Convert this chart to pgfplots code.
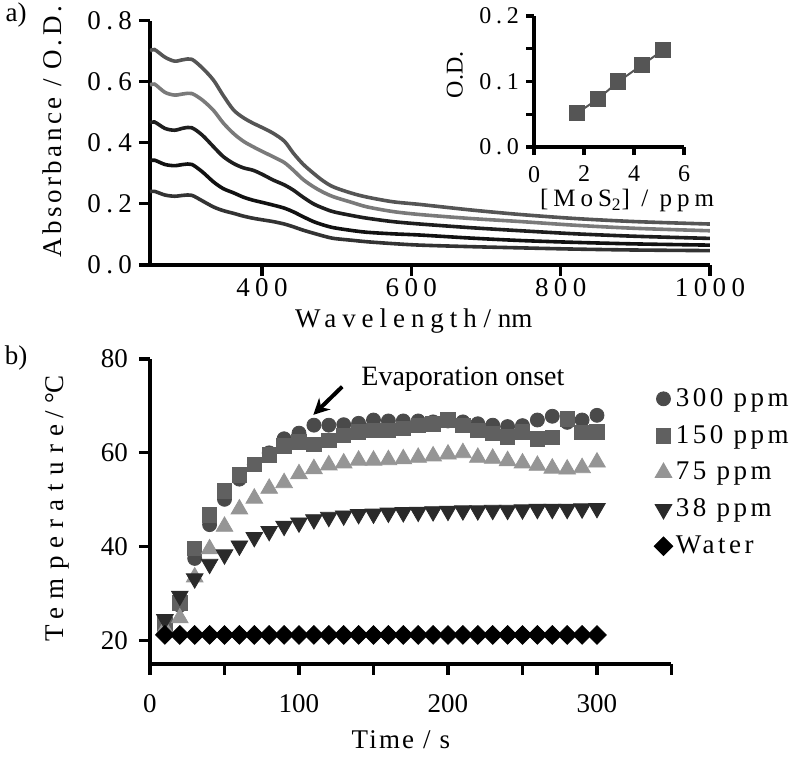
\documentclass[border=0pt]{standalone}
\usepackage{fontspec}
\setmainfont{Liberation Serif}
\newfontfamily\spA[LetterSpace=20]{Liberation Serif}
\newfontfamily\spB[LetterSpace=13]{Liberation Serif}
\newfontfamily\spC[LetterSpace=13]{Liberation Serif}
\newfontfamily\spD[LetterSpace=22]{Liberation Serif}
\newfontfamily\spE[LetterSpace=30]{Liberation Serif}
\newfontfamily\spF[LetterSpace=8]{Liberation Serif}
\usepackage{pgfplots}
\pgfplotsset{compat=1.18}
\usetikzlibrary{arrows.meta}
\definecolor{cA}{HTML}{555555}
\definecolor{cB}{HTML}{7A7A7A}
\definecolor{cC}{HTML}{1E1E1E}
\definecolor{cD}{HTML}{111111}
\definecolor{cE}{HTML}{333333}
\definecolor{mCirc}{HTML}{4A4A4A}
\definecolor{mSq}{HTML}{606060}
\definecolor{mUp}{HTML}{959595}
\definecolor{mDn}{HTML}{2A2A2A}
\pgfplotsset{
  lm/.style={only marks, legend image code/.code={\draw[mark repeat=2,mark phase=2,##1] plot coordinates {(0cm,0cm) (0.2cm,0cm) (0.4cm,0cm)};}},
  common/.style={scale only axis, axis x line*=bottom, axis y line*=left,
    axis line style={line width=1.6pt, -}, tick style={line width=1.6pt, black},
    tick align=outside, major tick length=5.5pt, minor tick length=0pt,
    /pgf/number format/assume math mode=true},
}
\begin{document}
\begin{tikzpicture}
\path[use as bounding box] (0pt,0pt) rectangle (400pt,-379pt);
% ---------- panel a ----------
\begin{axis}[common, at={(75pt,-132.5pt)}, anchor=south west,
  width=280pt, height=122.25pt,
  xmin=250, xmax=1000, ymin=0, ymax=0.8,
  xtick={400,600,800,1000}, xticklabels={400,600,800,1000},
  ytick={0,0.2,0.4,0.6,0.8}, yticklabels={0.0,0.2,0.4,0.6,0.8},
  ticklabel style={font=\fontsize{13.5}{15}\spA},
  xticklabel style={yshift=2.5pt},
  xlabel={{\spD Wavelength} / nm}, ylabel={Absorbance / O.D.},
  xlabel style={font=\fontsize{13.5}{15}\selectfont, at={(axis description cs:0.471,-0.229)}, anchor=center},
  ylabel style={font=\fontsize{13.5}{15}\spB, at={(axis description cs:-0.175,0.545)}, anchor=center, rotate=0},
  every axis plot/.append style={line width=1.8pt, smooth, no marks}]
\addplot[cA] coordinates {(250,0.700)(256,0.705)(270,0.680)(283,0.667)(295,0.672)(306,0.673)(320,0.645)(335,0.605)(348,0.555)(362,0.507)(375,0.482)(388,0.464)(400,0.450)(415,0.431)(430,0.405)(442,0.366)(455,0.330)(469,0.300)(482,0.275)(496,0.255)(520,0.235)(541,0.222)(575,0.207)(612,0.198)(680,0.180)(747,0.165)(820,0.152)(900,0.142)(1000,0.134)};
\addplot[cB] coordinates {(250,0.588)(256,0.592)(270,0.565)(283,0.556)(295,0.560)(306,0.561)(320,0.540)(335,0.506)(348,0.465)(362,0.430)(375,0.405)(388,0.387)(400,0.372)(415,0.354)(430,0.335)(442,0.310)(455,0.280)(469,0.256)(482,0.238)(496,0.223)(520,0.205)(541,0.190)(575,0.175)(612,0.165)(680,0.152)(747,0.142)(820,0.130)(900,0.120)(1000,0.112)};
\addplot[cC] coordinates {(250,0.465)(256,0.468)(270,0.447)(283,0.441)(295,0.448)(306,0.449)(320,0.425)(335,0.387)(348,0.355)(362,0.332)(375,0.318)(388,0.310)(400,0.297)(415,0.278)(430,0.262)(442,0.245)(455,0.222)(469,0.200)(482,0.186)(496,0.174)(520,0.162)(541,0.153)(575,0.142)(612,0.134)(680,0.122)(747,0.112)(820,0.102)(900,0.094)(1000,0.087)};
\addplot[cD] coordinates {(250,0.341)(256,0.343)(270,0.329)(283,0.325)(295,0.329)(306,0.329)(320,0.305)(335,0.272)(348,0.250)(362,0.236)(375,0.222)(388,0.212)(400,0.205)(415,0.196)(430,0.186)(442,0.174)(455,0.158)(469,0.142)(482,0.131)(496,0.122)(520,0.113)(541,0.107)(575,0.102)(612,0.098)(680,0.088)(747,0.080)(820,0.074)(900,0.069)(1000,0.065)};
\addplot[cE] coordinates {(250,0.240)(256,0.241)(270,0.229)(283,0.225)(295,0.228)(306,0.228)(320,0.210)(335,0.190)(348,0.178)(362,0.169)(375,0.160)(388,0.153)(400,0.148)(415,0.142)(430,0.134)(442,0.125)(455,0.114)(469,0.104)(482,0.095)(496,0.087)(520,0.081)(541,0.076)(575,0.070)(612,0.065)(680,0.060)(747,0.056)(820,0.052)(900,0.049)(1000,0.047)};
\end{axis}
% ---------- inset ----------
\begin{axis}[common, at={(267pt,-73.5pt)}, anchor=south west,
  width=75pt, height=65.5pt, major tick length=4pt,
  xmin=0, xmax=6, ymin=0, ymax=0.2,
  xtick={0,2,4,6}, xticklabels={0,2,4,6},
  ytick={0,0.05,0.1,0.15,0.2}, yticklabels={0.0,,0.1,,0.2},
  ticklabel style={font=\fontsize{12}{13}\spA},
  xticklabel style={yshift=-2pt},
  xlabel={[MoS\textsubscript{2}] / ppm}, ylabel={O.D.},
  xlabel style={font=\fontsize{12.5}{14}\spA, at={(axis description cs:0.62,-0.41)}, anchor=center},
  ylabel style={font=\fontsize{12}{13}\selectfont, at={(axis description cs:-0.527,0.55)}, anchor=center}]
\addplot[color=cA, line width=1pt, mark=square*, mark size=3.6pt, mark options={fill=cA, draw=cA}]
  coordinates {(1.71,0.0515)(2.55,0.073)(3.37,0.0997)(4.31,0.125)(5.17,0.148)};
\end{axis}
% ---------- panel b ----------
\begin{axis}[common, at={(75pt,-332pt)}, anchor=south west,
  width=260.75pt, height=152.5pt, clip=false,
  xmin=0, xmax=350, ymin=15, ymax=80,
  xtick={0,50,...,350}, xticklabels={0,,100,,200,,300,},
  ytick={20,40,60,80}, yticklabels={20,40,60,80},
  ticklabel style={font=\fontsize{13.5}{15}\selectfont},
  xticklabel style={yshift=-6pt},
  yticklabel style={xshift=-2pt},
  xlabel={Time / s}, ylabel={{\spE Temperature} / \textdegree C},
  xlabel style={font=\fontsize{13.5}{15}\spF, at={(axis description cs:0.481,-0.249)}, anchor=center},
  ylabel style={font=\fontsize{13.5}{15}\selectfont, at={(axis description cs:-0.178,0.51)}, anchor=center},
  legend style={at={(axis description cs:0.966,0.915)}, anchor=north west, draw=none, fill=none,
    font=\fontsize{13.5}{15}\spC, row sep=5pt, inner sep=0pt, nodes={inner sep=1.5pt}},
  legend cell align=left]
\addplot[lm, mark=*, mark size=3.5pt, mark options={fill=mCirc, draw=mCirc}] coordinates {
(10,23)(20,27.5)(30,37.5)(40,44.7)(50,50.1)(60,54.4)(70,57.5)(80,60)(90,63)(100,64.2)
(110,65.9)(120,65.9)(130,66)(140,66.3)(150,67)(160,66.8)(170,66.8)(180,66.8)(190,66.6)(200,66.8)
(210,66.6)(220,66.2)(230,65.9)(240,65.6)(250,65.8)(260,67)(270,67.8)(280,66.5)(290,67)(300,68)};
\addlegendentry{300 ppm}
\addplot[lm, mark=square*, mark size=3.6pt, mark options={fill=mSq, draw=mSq}] coordinates {
(10,23.5)(20,28)(30,39.7)(40,46.8)(50,51.9)(60,55.3)(70,57.6)(80,59.6)(90,61.5)(100,62.3)
(110,61.8)(120,62.7)(130,63.7)(140,64.5)(150,64.8)(160,64.8)(170,65.2)(180,65.9)(190,66.2)(200,67)
(210,65.9)(220,64.8)(230,64.1)(240,63.4)(250,64.5)(260,63)(270,63.3)(280,67.2)(290,64.3)(300,64.5)};
\addlegendentry{150 ppm}
\addplot[lm, mark=triangle*, mark size=4.8pt, mark options={fill=mUp, draw=mUp}] coordinates {
(10,22.5)(20,24.8)(30,33.5)(40,39.5)(50,44.3)(60,48)(70,50.3)(80,52.4)(90,53.6)(100,55.5)
(110,56.6)(120,57.4)(130,57.8)(140,58.4)(150,58.4)(160,58.5)(170,58.7)(180,59)(190,59.3)(200,59.7)
(210,60)(220,59)(230,58.8)(240,58.3)(250,57.8)(260,57.3)(270,56.7)(280,56.5)(290,56.8)(300,58)};
\addlegendentry{75 ppm}
\addplot[lm, mark=triangle*, mark size=4.8pt, mark options={fill=mDn, draw=mDn, rotate=180}] coordinates {
(10,24.5)(20,29.5)(30,33.2)(40,36.3)(50,38.3)(60,40.2)(70,42)(80,43.3)(90,44.4)(100,45.1)
(110,45.8)(120,46.3)(130,46.6)(140,46.9)(150,47)(160,47.2)(170,47.3)(180,47.4)(190,47.5)(200,47.6)
(210,47.7)(220,47.7)(230,47.8)(240,47.8)(250,47.9)(260,48)(270,48)(280,48)(290,48.1)(300,48.2)};
\addlegendentry{38 ppm}
\addplot[lm, mark=square*, mark size=3.3pt, mark options={fill=black, draw=black, rotate=45}] coordinates {
(10,21.2)(20,21.2)(30,21.2)(40,21.2)(50,21.2)(60,21.2)(70,21.2)(80,21.2)(90,21.2)(100,21.2)
(110,21.2)(120,21.2)(130,21.2)(140,21.2)(150,21.2)(160,21.2)(170,21.2)(180,21.2)(190,21.2)(200,21.2)
(210,21.2)(220,21.2)(230,21.2)(240,21.2)(250,21.2)(260,21.2)(270,21.2)(280,21.2)(290,21.2)(300,21.2)};
\addlegendentry{Water}
\draw[line width=2pt, -{Stealth[length=8pt,width=8pt]}] (axis cs:129,74.1) -- (axis cs:109.6,68.1);
\node[font=\fontsize{14}{16}\selectfont, anchor=center] at (axis cs:210,75.6) {Evaporation onset};
\end{axis}
\node[font=\fontsize{13.5}{15}\selectfont] at (8pt,-7.5pt) {a)};
\node[font=\fontsize{13.5}{15}\selectfont] at (8pt,-179pt) {b)};
\end{tikzpicture}
\end{document}
